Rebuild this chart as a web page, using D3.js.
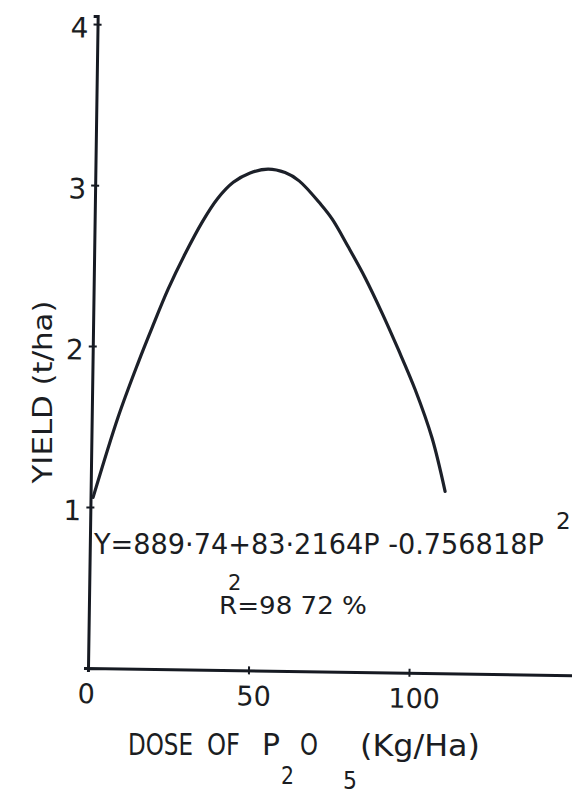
<!DOCTYPE html>
<html lang="en">
<head>
    <meta charset="UTF-8" />
    <title>Yield vs dose of P2O5</title>
    <script src="https://d3js.org/d3.v7.min.js"></script>
    <style>
        body {
            margin: 0;
            background: #fff;
        }
        svg {
            display: block;
            font-family: 'DejaVu Sans', sans-serif;
        }
        text {
            fill: #1b1d22;
        }
    </style>
</head>
<body>
    <script>
        // values
        const doses = [0.8, 8.2, 14.2, 18.4, 23.2, 28.3, 33.5, 38.1, 43.0, 48.2, 53.8, 59.1, 63.5, 70.4, 74.0, 79.1, 84.5, 90.0, 95.1, 100.6, 106.1, 110.4];
        const yields = [1.06, 1.56, 1.90, 2.12, 2.36, 2.58, 2.78, 2.925, 3.03, 3.09, 3.115, 3.095, 3.045, 2.90, 2.81, 2.64, 2.45, 2.23, 2.01, 1.76, 1.46, 1.13];
        const xTicks = [0, 50, 100];
        const yTicks = [1, 2, 3, 4];

        const width = 572, height = 795;
        const ink = '#161a22';

        const svg = d3.select('body').append('svg')
            .attr('width', width)
            .attr('height', height);

        // the scan is tilted a little, so the plot is too
        const plot = svg.append('g')
            .attr('transform', 'translate(88,668) rotate(0.85)');

        const x = d3.scaleLinear().domain([0, 155]).range([0, 497.6]);
        const y = d3.scaleLinear().domain([0, 4.05]).range([0, -652]);

        // x axis
        const xAxis = plot.append('g')
            .call(d3.axisBottom(x).tickValues(xTicks).tickFormat(d3.format('d'))
                .tickSizeOuter(0).tickSize(4).tickPadding(0));
        xAxis.select('.domain').attr('stroke', ink).attr('stroke-width', 3);
        xAxis.selectAll('.tick line')
            .attr('y1', -4).attr('y2', 4)
            .attr('stroke', ink).attr('stroke-width', 2)
            .attr('display', d => d === 0 ? 'none' : null);
        xAxis.selectAll('.tick text')
            .attr('y', 16).attr('dy', '0.71em').attr('dx', d => d === 0 ? -2 : 5)
            .attr('font-size', 27).attr('font-family', 'DejaVu Sans')
            .attr('fill', '#1b1d22');

        // y axis
        const yAxis = plot.append('g')
            .call(d3.axisLeft(y).tickValues(yTicks).tickFormat(d3.format('d'))
                .tickSizeOuter(0).tickSize(4).tickPadding(12));
        yAxis.select('.domain').attr('stroke', ink).attr('stroke-width', 3);
        yAxis.selectAll('.tick line')
            .attr('x1', -4).attr('x2', 4)
            .attr('stroke', ink).attr('stroke-width', 2);
        yAxis.selectAll('.tick text')
            .attr('y', 4).attr('x', -9)
            .attr('font-size', 28).attr('font-family', 'DejaVu Sans')
            .attr('fill', '#1b1d22');

        // fitted curve
        const pts = doses.map((d, i) => [d, yields[i]]);
        plot.append('path')
            .datum(pts)
            .attr('fill', 'none')
            .attr('stroke', '#1c2029')
            .attr('stroke-width', 3.2)
            .attr('stroke-linecap', 'round')
            .attr('d', d3.line()
                .x(d => x(d[0]))
                .y(d => y(d[1]))
                .curve(d3.curveCatmullRom.alpha(0.5)));

        // the lettering is narrower than DejaVu, so squeeze each label to its width
        function label(t, px, py, size, w, rot) {
            const el = svg.append('text')
                .attr('font-size', size)
                .attr('text-anchor', rot ? 'middle' : 'start')
                .text(t);
            const k = w ? w / el.node().getComputedTextLength() : 1;
            el.attr('transform', `translate(${px},${py})` + (rot ? ` rotate(${rot})` : '') + ` scale(${k},1)`);
            return el;
        }

        // y axis title
        label('YIELD (t/ha)', 52, 392, 27, 183, -90);

        // x axis title, with subscripts
        label('DOSE', 128, 755, 30, 65);
        label('OF', 207, 755, 30, 33);
        label('P', 262, 755, 30, 18);
        label('2', 281, 784, 24, 13);
        label('O', 300, 755, 30, 18);
        label('5', 343, 789, 24, 14);
        label('(Kg/Ha)', 360, 756, 30, 120);

        // regression equation
        label('Y=889·74+83·2164P -0.756818P', 94, 554, 28, 450);
        label('2', 556, 529, 23);
        label('R=98 72 %', 219, 614, 24, 148);
        label('2', 228, 590, 21);
    </script>
</body>
</html>
